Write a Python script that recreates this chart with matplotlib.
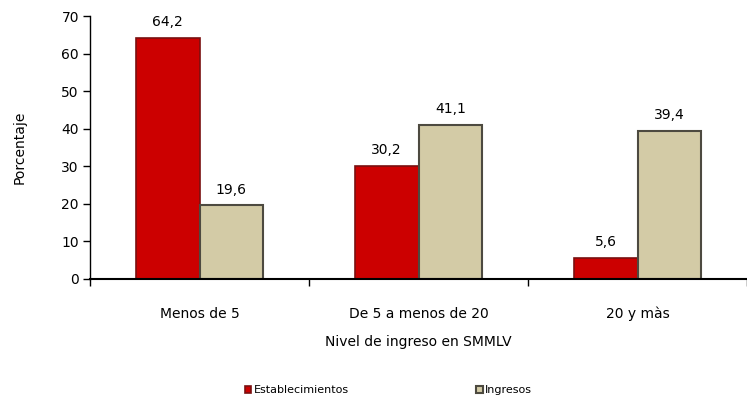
import matplotlib.pyplot as plt
import numpy as np

plt.rcParams['font.family'] = ['DejaVu Sans']

# datos
categorias = ['Menos de 5', 'De 5 a menos de 20', '20 y màs']
establecimientos = [64.2, 30.2, 5.6]
ingresos = [19.6, 41.1, 39.4]
etiquetas_est = ['64,2', '30,2', '5,6']
etiquetas_ing = ['19,6', '41,1', '39,4']

rojo = '#CC0000'
beige = '#D3CBA6'

fig = plt.figure(figsize=(7.47, 4.0), dpi=100)
ax = fig.add_axes([90/747, 1-279/400, 1-90/747, (279-16)/400])

x = np.arange(len(categorias))
w = 0.29
b1 = ax.bar(x - w/2, establecimientos, w, color=rojo, edgecolor='#7a1010', linewidth=1.2,
            label='Establecimientos')
b2 = ax.bar(x + w/2, ingresos, w, color=beige, edgecolor='#4d4a40', linewidth=1.5,
            label='Ingresos')

for r, t in zip(b1, etiquetas_est):
    ax.text(r.get_x() + r.get_width()/2, r.get_height() + 2.3, t,
            ha='center', va='bottom', fontsize=10)
for r, t in zip(b2, etiquetas_ing):
    ax.text(r.get_x() + r.get_width()/2, r.get_height() + 2.3, t,
            ha='center', va='bottom', fontsize=10)

ax.set_ylim(0, 70)
ax.set_yticks(range(0, 71, 10))
ax.set_xlim(-0.5, -0.5 + (747-90)/223)
ax.set_xticks([-0.5, 0.5, 1.5, 2.5])
ax.set_xticklabels([])
ax.set_xticks(x, minor=True)
ax.set_xticklabels(categorias, minor=True, fontsize=10)
ax.tick_params(axis='x', which='major', direction='out', length=5, width=1)
ax.tick_params(axis='x', which='minor', length=0, pad=20)
ax.tick_params(axis='y', direction='out', length=5, width=1, labelsize=10, pad=3)

for s in ['top', 'right']:
    ax.spines[s].set_visible(False)
ax.spines['left'].set_linewidth(1)
ax.spines['bottom'].set_linewidth(1.5)

ax.set_ylabel('Porcentaje', fontsize=10, labelpad=25)
ax.set_xlabel('Nivel de ingreso en SMMLV', fontsize=10, labelpad=10)

fig.legend(handles=[b1, b2], loc='center', bbox_to_anchor=(0.52, 1-390/400), ncol=2,
           frameon=False, fontsize=8, handlelength=0.6, handleheight=0.6,
           handletextpad=0.2, columnspacing=11.5)

fig.savefig('out.png', dpi=100)
